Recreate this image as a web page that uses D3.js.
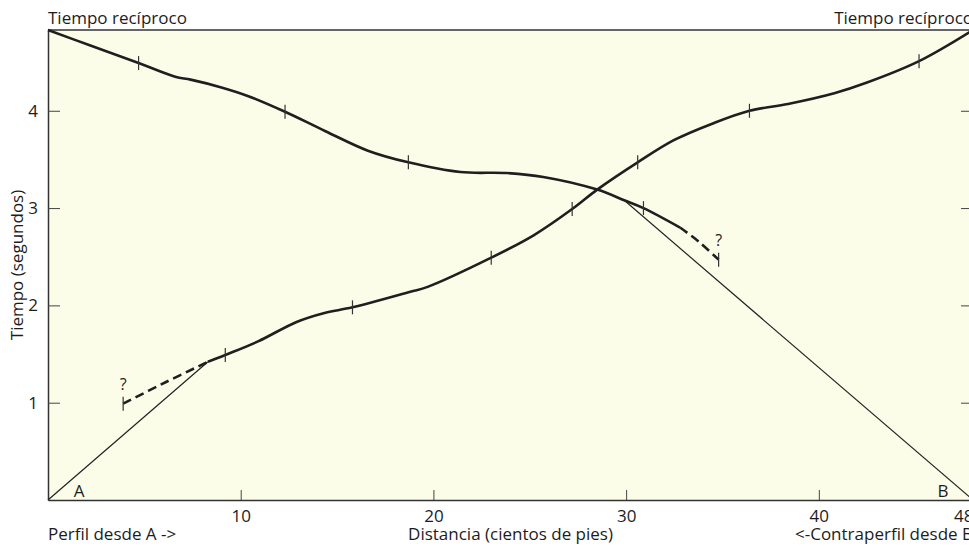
<!DOCTYPE html>
<html>
<head>
<meta charset="utf-8">
<script src="https://cdn.jsdelivr.net/npm/d3@7"></script>
<style>
  html, body { margin: 0; padding: 0; background: #fff; overflow: hidden; }
  text { font-family: "Open Sans", "Noto Sans", sans-serif; fill: #1c1c1c; }
</style>
</head>
<body>
<svg id="chart" width="1000" height="546"></svg>
<script>
// distance (hundreds of ft), time (s)
const profileA = [
  [8.3, 1.42], [9.2, 1.49], [10.9, 1.63], [12.9, 1.83], [14.3, 1.92],
  [15.8, 1.98], [18.8, 2.14], [19.7, 2.19], [23.0, 2.49], [25.2, 2.72],
  [27.2, 2.99], [28.5, 3.19], [30.6, 3.47], [32.5, 3.70], [34.5, 3.87],
  [36.4, 4.0], [38.4, 4.07], [40.8, 4.18], [42.5, 4.29], [45.2, 4.51],
  [48, 4.83]
];
const profileADashed = [[3.9, 0.99], [6.1, 1.21], [8.3, 1.42]];
const profileATicks = [
  [3.9, 0.99], [9.2, 1.49], [15.8, 1.98], [23.0, 2.49], [27.2, 2.99],
  [30.6, 3.47], [36.4, 4.0], [45.2, 4.51]
];

const profileB = [
  [0, 4.83], [2.2, 4.67], [4.7, 4.49], [6.6, 4.35], [7.4, 4.32],
  [9.0, 4.24], [10.4, 4.15], [12.3, 3.99], [14.4, 3.79], [16.6, 3.59],
  [18.7, 3.47], [21.4, 3.37], [23.8, 3.36], [25.7, 3.32], [28.5, 3.19],
  [29.9, 3.08], [30.9, 3.0], [32.8, 2.80]
];
const profileBDashed = [[32.8, 2.80], [33.8, 2.65], [34.8, 2.47]];
const profileBTicks = [[4.7, 4.49], [12.3, 3.99], [18.7, 3.47], [30.9, 3.0], [34.8, 2.47]];

// straight direct-wave lines from the shot points
const directA = [[0, 0], [8.3, 1.42]];
const directB = [[48, 0], [29.9, 3.08]];

const xTicks = [10, 20, 30, 40, 48];
const yTicks = [1, 2, 3, 4];
const reciprocalTime = 4.83;

const plotLeft = 48, plotTop = 30, plotRight = 973, plotBottom = 500;
const fontSize = "17px";

const svg = d3.select("#chart");

const x = d3.scaleLinear().domain([0, 48]).range([plotLeft, plotRight]);
const y = d3.scaleLinear().domain([0, reciprocalTime]).range([plotBottom, plotTop]);

// plot background
svg.append("rect")
  .attr("x", plotLeft).attr("y", plotTop)
  .attr("width", plotRight - plotLeft).attr("height", plotBottom - plotTop)
  .style("fill", "#fcfde9");

// frame line along the top
svg.append("line")
  .attr("x1", plotLeft).attr("x2", plotRight).attr("y1", plotTop).attr("y2", plotTop)
  .style("stroke", "#333").style("stroke-width", 1.5);

const xAxis = svg.append("g")
  .attr("transform", `translate(0,${plotBottom})`)
  .call(d3.axisBottom(x).tickValues(xTicks).tickFormat(d3.format("d"))
    .tickSizeInner(-10).tickSizeOuter(0).tickPadding(10));

const yAxis = svg.append("g")
  .attr("transform", `translate(${plotLeft},0)`)
  .call(d3.axisLeft(y).tickValues(yTicks).tickFormat(d3.format("d"))
    .tickSizeInner(-12).tickSizeOuter(0).tickPadding(10));

const yAxisRight = svg.append("g")
  .attr("transform", `translate(${plotRight},0)`)
  .call(d3.axisRight(y).tickValues(yTicks).tickSizeInner(-12).tickSizeOuter(0).tickFormat(""));

[xAxis, yAxis, yAxisRight].forEach((g) => {
  g.attr("font-size", null).attr("font-family", null);
  g.select(".domain").style("stroke", "#333").style("stroke-width", 1.5);
  g.selectAll(".tick line").style("stroke", "#444").style("stroke-width", 1);
  g.selectAll(".tick text")
    .style("font-size", fontSize)
    .style("fill", "#1c1c1c");
});

// last label sits at the clipped corner
xAxis.selectAll(".tick text").filter((d) => d === 48).attr("text-anchor", "end");

const lineGen = d3
  .line()
  .x((d) => x(d[0]))
  .y((d) => y(d[1]))
  .curve(d3.curveCatmullRom.alpha(0.5));

const straight = d3.line().x((d) => x(d[0])).y((d) => y(d[1]));

// direct lines
[directA, directB].forEach((pts) => {
  svg.append("path")
    .attr("d", straight(pts))
    .style("stroke", "#222").style("stroke-width", 1.2).style("fill", "none");
});

// travel time curves
[profileA, profileB].forEach((pts) => {
  svg.append("path")
    .attr("d", lineGen(pts))
    .style("stroke", "#1f1f1f").style("stroke-width", 2.6).style("fill", "none");
});

[profileADashed, profileBDashed].forEach((pts) => {
  svg.append("path")
    .attr("d", lineGen(pts))
    .style("stroke", "#1f1f1f").style("stroke-width", 2.6)
    .style("stroke-dasharray", "9,5").style("fill", "none");
});

// small vertical marks on the curves
svg.append("g")
  .selectAll("line")
  .data(profileATicks.concat(profileBTicks))
  .join("line")
  .attr("x1", (d) => x(d[0])).attr("x2", (d) => x(d[0]))
  .attr("y1", (d) => y(d[1]) - 7).attr("y2", (d) => y(d[1]) + 7)
  .style("stroke", "#333").style("stroke-width", 1.2);

// question marks at the doubtful ends
svg.append("g")
  .selectAll("text")
  .data([profileADashed[0], profileBDashed[profileBDashed.length - 1]])
  .join("text")
  .attr("x", (d) => x(d[0]))
  .attr("y", (d) => y(d[1]) - 14)
  .attr("text-anchor", "middle")
  .style("font-size", "16px")
  .text("?");

// shot point labels
svg.append("text").attr("x", x(0) + 31).attr("y", plotBottom - 3)
  .attr("text-anchor", "middle").style("font-size", fontSize).text("A");
svg.append("text").attr("x", x(48) - 30).attr("y", plotBottom - 3)
  .attr("text-anchor", "middle").style("font-size", fontSize).text("B");

// titles
svg.append("text").attr("x", plotLeft).attr("y", 24)
  .style("font-size", fontSize).text("Tiempo recíproco");
svg.append("text").attr("x", plotRight).attr("y", 24).attr("text-anchor", "end")
  .style("font-size", fontSize).text("Tiempo recíproco");

svg.append("text").attr("x", plotLeft).attr("y", 540)
  .style("font-size", fontSize).text("Perfil desde A ->");
svg.append("text").attr("x", (plotLeft + plotRight) / 2).attr("y", 540).attr("text-anchor", "middle")
  .style("font-size", fontSize).text("Distancia (cientos de pies)");
svg.append("text").attr("x", plotRight).attr("y", 540).attr("text-anchor", "end")
  .style("font-size", fontSize).text("<-Contraperfil desde B");

svg.append("text")
  .attr("transform", `translate(23,${(plotTop + plotBottom) / 2}) rotate(-90)`)
  .attr("text-anchor", "middle")
  .style("font-size", fontSize)
  .text("Tiempo (segundos)");
</script>
</body>
</html>
